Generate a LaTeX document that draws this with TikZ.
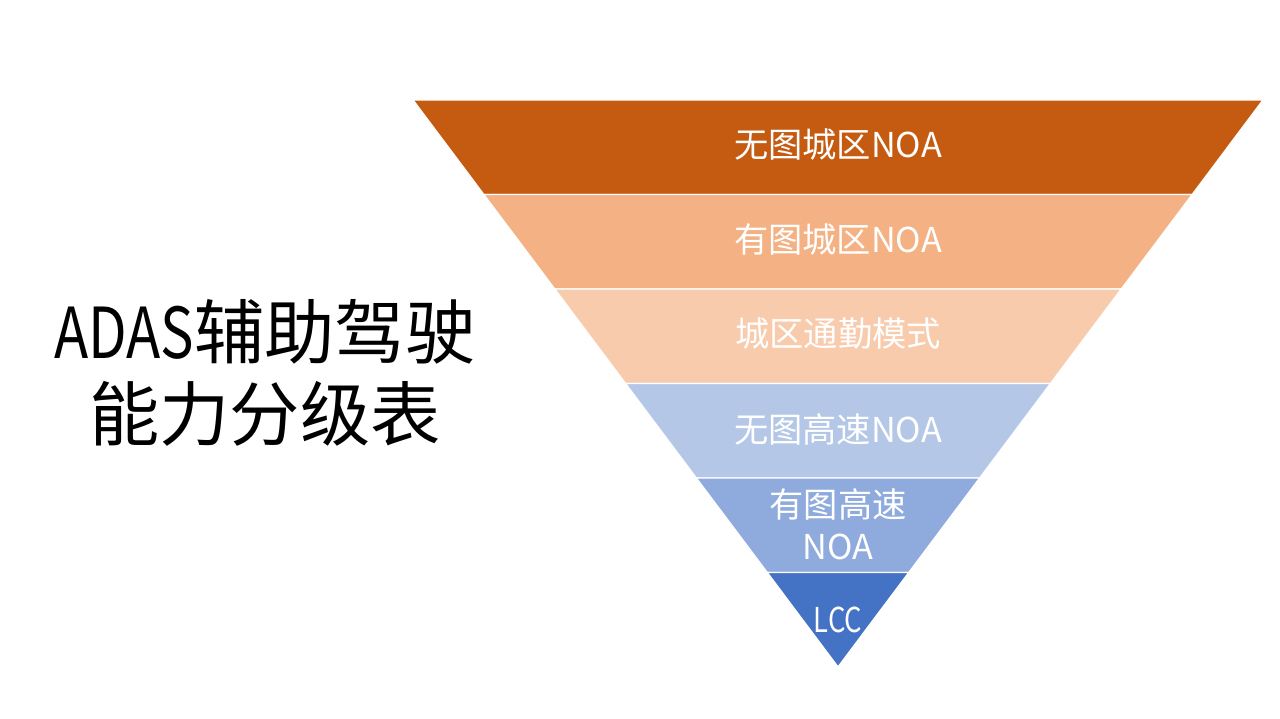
\documentclass[tikz,border=0pt]{standalone}
\usepackage{fontspec}
\setmainfont{Noto Sans CJK SC}
\usetikzlibrary{positioning}

\definecolor{bandA}{HTML}{C55A11}
\definecolor{bandB}{HTML}{F4B183}
\definecolor{bandC}{HTML}{F8CBAD}
\definecolor{bandD}{HTML}{B4C7E7}
\definecolor{bandE}{HTML}{8FAADC}
\definecolor{bandF}{HTML}{4472C4}

\begin{document}
\begin{tikzpicture}[x=0.02cm, y=-0.02cm,
		band/.style={draw=white, line width=0.8pt, line join=round},
		bandlabel/.style={text=white, font=\fontsize{19.5}{24}\selectfont, align=center, inner sep=0pt},
		titlenode/.style={font=\fontsize{40}{47}\selectfont, align=center, inner sep=0pt},
		]
		\useasboundingbox (0,0) rectangle (1280,718);
		
		%Bands
		\filldraw[band, fill=bandA] (413,100) -- (1263,100) -- (1192.2,194.5) -- (483.8,194.5) -- cycle;
		\filldraw[band, fill=bandB] (483.8,194.5) -- (1192.2,194.5) -- (1121.3,289) -- (554.7,289) -- cycle;
		\filldraw[band, fill=bandC] (554.7,289) -- (1121.3,289) -- (1050.5,383.5) -- (625.5,383.5) -- cycle;
		\filldraw[band, fill=bandD] (625.5,383.5) -- (1050.5,383.5) -- (979.7,478) -- (696.3,478) -- cycle;
		\filldraw[band, fill=bandE] (696.3,478) -- (979.7,478) -- (908.8,572.5) -- (767.2,572.5) -- cycle;
		\filldraw[band, fill=bandF] (767.2,572.5) -- (908.8,572.5) -- (838,667) -- cycle;
		
		%Labels
		\node[bandlabel] (l1) at (838,145) {无图城区NOA};
		\node[bandlabel] (l2) at (838,240) {有图城区NOA};
		\node[bandlabel] (l3) at (838,334) {城区通勤模式};
		\node[bandlabel] (l4) at (838,429) {无图高速NOA};
		\node[bandlabel] (l5) at (838,524) {有图高速\\NOA};
		\node[bandlabel] (l6) at (838,620) {\scalebox{0.8}[1]{LCC}};
		
		%Title
		\node[titlenode] (title) at (265,373) {\scalebox{0.8}[1]{ADAS}辅助驾驶\\能力分级表};
		\end{tikzpicture}
\end{document}
